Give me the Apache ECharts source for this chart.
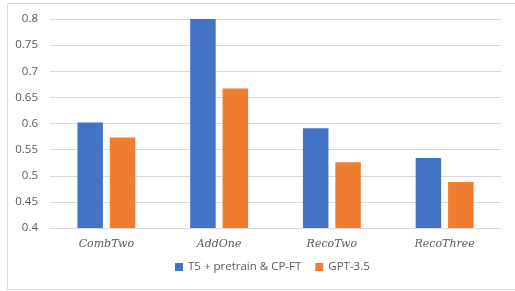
<!DOCTYPE html>
<html>
<head>
<meta charset="utf-8">
<script src="https://cdn.jsdelivr.net/npm/echarts@6/dist/echarts.min.js"></script>
<style>
  html, body { margin: 0; padding: 0; background: #fff; }
  #chart { width: 515px; height: 291px; }
</style>
</head>
<body>
<div id="chart"></div>
<script>
const categories = ['CombTwo', 'AddOne', 'RecoTwo', 'RecoThree']
const t5Values = [0.602, 0.800, 0.591, 0.534]
const gptValues = [0.573, 0.667, 0.526, 0.488]
const seriesNames = ['T5 + pretrain & CP-FT', 'GPT-3.5']

const chart = echarts.init(document.getElementById('chart'))

chart.setOption({
  animation: false,
  graphic: [{
    type: 'rect',
    shape: { x: 7.5, y: 3.5, width: 520, height: 286 },
    style: { fill: 'none', stroke: '#d9d9d9', lineWidth: 1 },
    silent: true
  }],
  grid: {
    left: 50,
    right: 14,
    top: 19,
    bottom: 63
  },
  legend: {
    data: seriesNames,
    bottom: 13,
    left: 170,
    itemWidth: 8,
    itemHeight: 8,
    itemGap: 14,
    icon: 'rect',
    textStyle: {
      color: '#595959',
      fontFamily: 'Open Sans',
      fontSize: 11.5
    }
  },
  xAxis: {
    type: 'category',
    data: categories,
    axisLine: { lineStyle: { color: '#d9d9d9' } },
    axisTick: { show: false },
    axisLabel: {
      color: '#595959',
      fontFamily: 'DejaVu Serif',
      fontStyle: 'italic',
      fontSize: 11,
      margin: 11
    }
  },
  yAxis: {
    type: 'value',
    min: 0.4,
    max: 0.8,
    interval: 0.05,
    axisLine: { show: false },
    axisTick: { show: false },
    splitLine: { lineStyle: { color: '#d9d9d9' } },
    axisLabel: {
      color: '#595959',
      fontFamily: 'Open Sans',
      fontSize: 11.5,
      margin: 12,
      formatter: function(v) {
        return String(Math.round(v * 100) / 100)
      }
    }
  },
  series: [
    {
      name: seriesNames[0],
      type: 'bar',
      data: t5Values,
      barWidth: 25.5,
      barGap: '27%',
      itemStyle: { color: '#4472c4' }
    },
    {
      name: seriesNames[1],
      type: 'bar',
      data: gptValues,
      barWidth: 25.5,
      itemStyle: { color: '#ed7d31' }
    }
  ]
})
</script>
</body>
</html>
